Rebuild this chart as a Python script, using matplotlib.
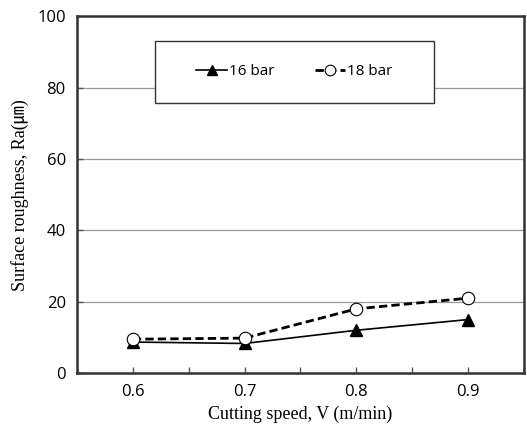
import matplotlib
matplotlib.use("Agg")
import matplotlib.pyplot as plt
from matplotlib.patches import Rectangle

speed = [0.6, 0.7, 0.8, 0.9]
ra_16bar = [8.7, 8.3, 12.0, 15.0]
ra_18bar = [9.5, 9.8, 18.0, 21.0]
x_ticks = [0.55, 0.6, 0.65, 0.7, 0.75, 0.8, 0.85, 0.9, 0.95]
x_labels = ["", "0.6", "", "0.7", "", "0.8", "", "0.9", ""]
y_ticks = [0, 20, 40, 60, 80, 100]

fig = plt.figure(figsize=(5.27, 4.41), dpi=100)
ax = fig.add_axes([0.146, 0.154, 0.848, 0.809])

ax.plot(speed, ra_16bar, color="black", lw=1.2, marker="^", ms=8,
        mfc="black", mec="black", label="16 bar", zorder=3)
ax.plot(speed, ra_18bar, color="black", lw=2.0, ls=(0, (3, 1.5)), marker="o", ms=9,
        mfc="white", mec="black", mew=0.8, label="18 bar", zorder=4)

ax.set_xlim(0.55, 0.95)
ax.set_ylim(0, 100)
ax.set_xticks(x_ticks)
ax.set_xticklabels(x_labels, fontsize=12, family="Open Sans")
ax.set_yticks(y_ticks)
ax.set_yticklabels([str(v) for v in y_ticks], fontsize=12, family="Open Sans")
ax.tick_params(direction="in", length=4, width=1, color="#555555", pad=8)
ax.yaxis.grid(True, color="#999999", lw=0.9)
ax.set_axisbelow(True)
for s in ax.spines.values():
    s.set_linewidth(1.8)
    s.set_color("#333333")

ax.set_xlabel("Cutting speed, V (m/min)", fontsize=13,
              family=["Liberation Serif", "Noto Sans CJK JP"], labelpad=4)
ax.set_ylabel("Surface roughness, Ra(\u339b)", fontsize=13,
              family=["Liberation Serif", "Noto Sans CJK JP"], labelpad=6)

# legend box drawn separately, entries centred in it
box = Rectangle((0.1745, 0.757), 0.6245, 0.174, transform=ax.transAxes,
                facecolor="white", edgecolor="#333333", lw=1.0, zorder=5)
ax.add_patch(box)
leg = ax.legend(loc="center", bbox_to_anchor=(0.487, 0.844), ncol=2,
                frameon=False, handlelength=2.0, handletextpad=0.15,
                columnspacing=2.6, markerscale=0.85,
                prop={"family": "Open Sans", "size": 11})
leg.set_zorder(6)

fig.savefig("out.png", dpi=100)
